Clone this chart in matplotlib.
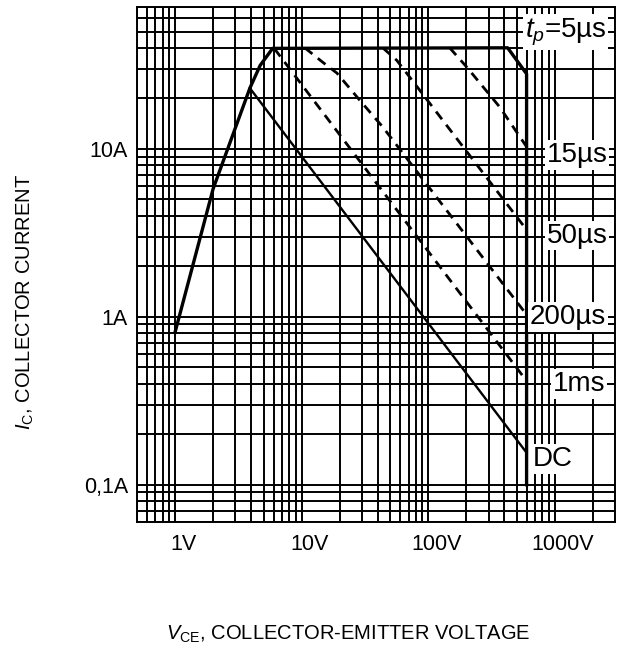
import numpy as np
import matplotlib.pyplot as plt
from matplotlib.ticker import FixedLocator, LogLocator, NullFormatter
from matplotlib.transforms import ScaledTranslation

plt.rcParams['font.family'] = ['Liberation Sans', 'DejaVu Sans']
plt.rcParams['mathtext.fontset'] = 'custom'
plt.rcParams['mathtext.rm'] = 'Liberation Sans'
plt.rcParams['mathtext.it'] = 'Liberation Sans:italic'

# safe operating area
env_v = [1.0, 2.0, 3.9, 4.7, 5.9, 425, 600, 600]     # tp = 5us envelope
env_i = [0.81, 5.8, 23, 31.4, 39.7, 40, 28, 0.1]

dc_v = [3.9, 600]
dc_i = [23, 0.155]

ms1_v = [6.1, 600]
ms1_i = [39.5, 0.415]

us200_v = [10.6, 14.7, 19.0, 28.8, 43.8, 600]
us200_i = [40, 32.8, 28.3, 19.5, 13.5, 1.03]

us50_v = [43.8, 56.5, 67.8, 600]
us50_i = [40, 33.7, 28.2, 3.3]

us15_v = [148, 202, 367, 600]
us15_i = [40, 30.7, 17.8, 10.3]

x_ticks = [1, 10, 100, 1000]
x_ticklabels = ['1V', '10V', '100V', '1000V']
y_ticks = [0.1, 1, 10]
y_ticklabels = ['0,1A', '1A', '10A']
curve_labels = [r'$t_p$=5µs', '15µs', '50µs', '200µs', '1ms', 'DC']

fig = plt.figure(figsize=(6.23, 6.55), dpi=100)
ax = fig.add_axes([0.2199, 0.2031, 0.7673, 0.7862])

ax.set_xscale('log')
ax.set_yscale('log')
ax.set_xlim(0.5, 3000)
ax.set_ylim(0.06, 70)

ax.xaxis.set_major_locator(FixedLocator(x_ticks))
ax.yaxis.set_major_locator(FixedLocator(y_ticks))
ax.xaxis.set_minor_locator(LogLocator(base=10, subs=np.arange(2, 10), numticks=100))
ax.yaxis.set_minor_locator(LogLocator(base=10, subs=np.arange(2, 10), numticks=100))
ax.xaxis.set_minor_formatter(NullFormatter())
ax.yaxis.set_minor_formatter(NullFormatter())
ax.set_xticklabels(x_ticklabels)
ax.set_yticklabels(y_ticklabels)

ax.grid(which='both', color='black', lw=1.4)
ax.tick_params(which='both', length=0, labelsize=15.5)
ax.tick_params(axis='x', pad=9)
ax.tick_params(axis='y', pad=6.5)
for sp in ax.spines.values():
    sp.set_linewidth(1.4)

# shift x tick labels a bit to the right like the original
for lab in ax.get_xticklabels():
    lab.set_transform(lab.get_transform() + ScaledTranslation(8/100, 0, fig.dpi_scale_trans))

ax.plot(env_v, env_i, color='black', lw=2.4, solid_joinstyle='round', zorder=3)
ax.plot(dc_v, dc_i, color='black', lw=1.7, zorder=3)
for v, i in [(us15_v, us15_i), (us50_v, us50_i), (us200_v, us200_i), (ms1_v, ms1_i)]:
    ax.plot(v, i, color='black', lw=2.0, ls=(0, (3.5, 2.5)), zorder=3)

label_pos = [(579, 46.3), (863, 8.37), (863, 2.77), (634, 0.903), (962, 0.362), (669, 0.129)]
for txt, (x, y) in zip(curve_labels, label_pos):
    ax.text(x, y, txt, fontsize=20, ha='left', va='baseline', zorder=5,
            bbox=dict(facecolor='white', edgecolor='none', pad=1.5))

fig.text(0.559, 0.031, r'$V_\mathrm{CE}$, COLLECTOR-EMITTER VOLTAGE', fontsize=14.5,
         ha='center', va='center')
fig.text(0.040, 0.539, r'$I_\mathrm{C}$, COLLECTOR CURRENT', fontsize=14.5,
         ha='center', va='center', rotation=90)

fig.savefig('out.png', dpi=100)
